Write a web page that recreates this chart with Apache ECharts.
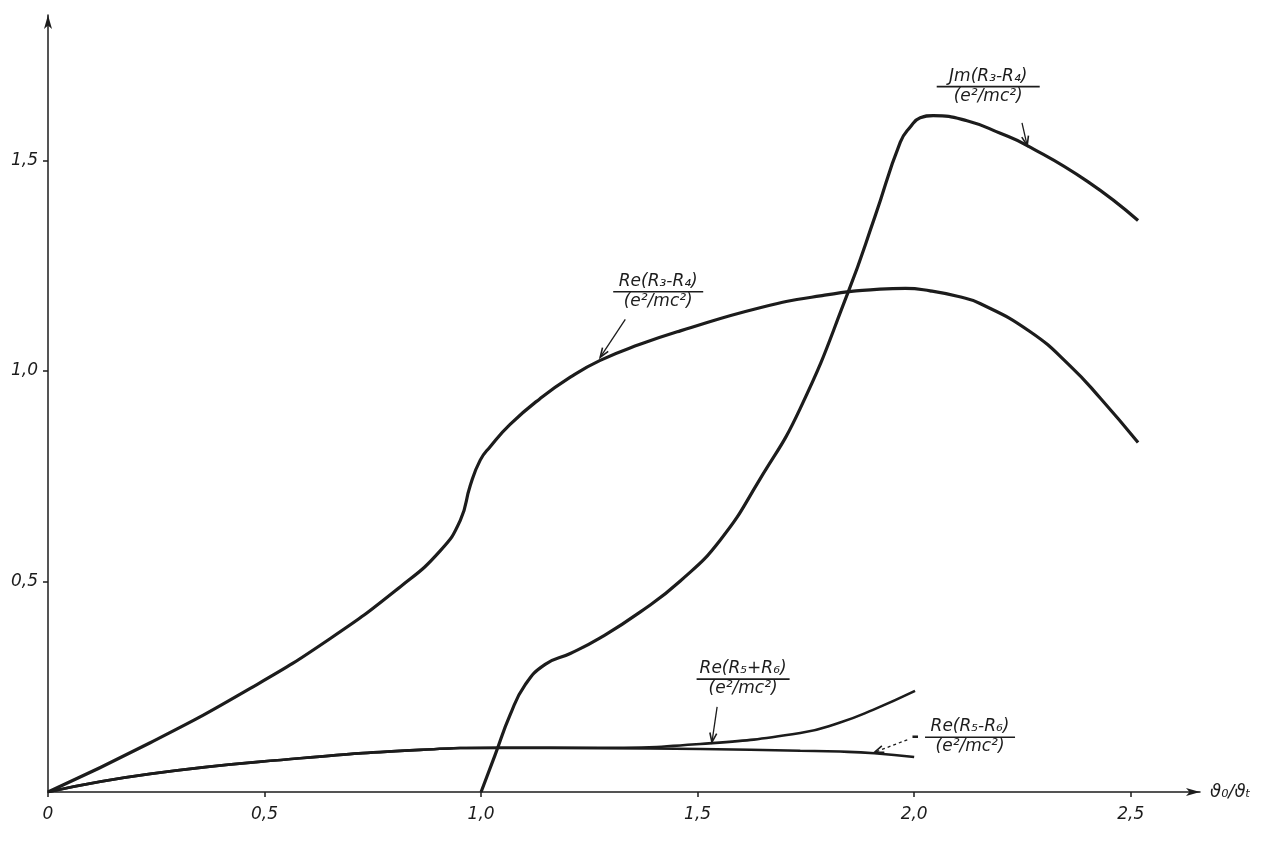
<!DOCTYPE html>
<html><head><meta charset="utf-8">
<script src="https://cdn.jsdelivr.net/npm/echarts@6/dist/echarts.min.js"></script>
<style>html,body{margin:0;padding:0;background:#fff}#c{width:1265px;height:846px}</style>
</head><body><div id="c"></div>
<script>
// ---- data (x = ϑ0/ϑt, y in units of e²/mc²) ----
const xTickLabels = ['0', '0,5', '1,0', '1,5', '2,0', '2,5'];
const yTickLabels = ['0', '0,5', '1,0', '1,5'];

const reR3R4 = [[0,0],[0.236,0.117],[0.467,0.246],[0.651,0.364],[0.813,0.487],[0.905,0.572],[0.952,0.645],[0.975,0.728],[0.998,0.788],[1.021,0.820],[1.067,0.873],[1.136,0.934],[1.206,0.985],[1.275,1.025],[1.367,1.063],[1.46,1.095],[1.644,1.150],[1.783,1.178],[1.921,1.194],[1.98,1.196],[2.037,1.190],[2.10,1.177],[2.152,1.160],[2.268,1.093],[2.36,1.012],[2.43,0.935],[2.517,0.830]];

const imR3R4 = [[1.0,0],[1.032,0.087],[1.067,0.183],[1.102,0.255],[1.148,0.303],[1.206,0.329],[1.275,0.366],[1.367,0.427],[1.46,0.501],[1.552,0.598],[1.644,0.743],[1.737,0.911],[1.848,1.188],[1.910,1.368],[1.968,1.543],[1.991,1.579],[2.014,1.601],[2.044,1.606],[2.122,1.594],[2.199,1.564],[2.261,1.535],[2.40,1.450],[2.517,1.357]];

const reR5plusR6 = [[0,0],[0.236,0.043],[0.582,0.080],[0.859,0.100],[1.044,0.105],[1.275,0.105],[1.506,0.114],[1.737,0.140],[1.829,0.165],[1.905,0.195],[2.002,0.240]];

const negReR5minusR6 = [[0,0],[0.236,0.043],[0.582,0.080],[0.859,0.100],[1.044,0.105],[1.275,0.104],[1.506,0.102],[1.737,0.098],[1.829,0.096],[1.908,0.092],[2.0,0.083]];

// annotation labels (fraction labels with arrows), anchored in data coordinates
const annotations = [
  {num:'Jm(R₃-R₄)', den:'(e²/mc²)', at:[2.171,1.675], w:103, from:[2.249,1.589], to:[2.261,1.535], dashed:false, prefix:''},
  {num:'Re(R₃-R₄)', den:'(e²/mc²)', at:[1.409,1.188], w:90, from:[1.333,1.122], to:[1.275,1.032], dashed:false, prefix:''},
  {num:'Re(R₅+R₆)', den:'(e²/mc²)', at:[1.605,0.268], w:93, from:[1.545,0.202], to:[1.533,0.118], dashed:false, prefix:''},
  {num:'Re(R₅-R₆)', den:'(e²/mc²)', at:[2.129,0.130], w:90, from:[1.984,0.124], to:[1.908,0.094], dashed:true, prefix:'-'}
];

const INK = '#1c1c1c';
const FONT = '"DejaVu Sans", sans-serif';

const chart = echarts.init(document.getElementById('c'));

function lineSeries(name, data, width) {
  return {
    name, type:'line', data, symbol:'none', smooth:0.5,
    lineStyle:{color:INK, width}, itemStyle:{color:INK}, z:3, animation:false
  };
}

chart.setOption({
  backgroundColor:'#fff',
  animation:false,
  grid:{left:48, right:65, top:15, bottom:54, containLabel:false},
  xAxis:{
    type:'value', min:0, max:2.66, interval:0.5,
    axisLine:{show:true, lineStyle:{color:INK, width:1.5}, symbol:['none','arrow'], symbolSize:[6,14]},
    axisTick:{show:true, length:5, lineStyle:{color:INK, width:1.5}},
    axisLabel:{formatter:v => xTickLabels[Math.round(v/0.5)] || '', showMaxLabel:false, color:INK,
      fontStyle:'italic', fontSize:17, fontFamily:FONT, margin:14},
    splitLine:{show:false},
    name:'ϑ₀/ϑₜ', nameLocation:'end', nameGap:10,
    nameTextStyle:{color:INK, fontStyle:'italic', fontSize:18, fontFamily:FONT, padding:[22,0,0,0]}
  },
  yAxis:{
    type:'value', min:0, max:1.845, interval:0.5,
    axisLine:{show:true, lineStyle:{color:INK, width:1.5}, symbol:['none','arrow'], symbolSize:[6,14]},
    axisTick:{show:true, length:5, lineStyle:{color:INK, width:1.5}},
    axisLabel:{formatter:v => yTickLabels[Math.round(v/0.5)] || '', showMinLabel:false, showMaxLabel:false,
      color:INK, fontStyle:'italic', fontSize:17, fontFamily:FONT, margin:10},
    splitLine:{show:false}
  },
  series:[
    lineSeries('Re(R3-R4)', reR3R4, 3.2),
    lineSeries('Im(R3-R4)', imR3R4, 3.2),
    lineSeries('Re(R5+R6)', reR5plusR6, 2.6),
    lineSeries('-Re(R5-R6)', negReR5minusR6, 2.6)
  ]
});

function px(p){ return chart.convertToPixel({gridIndex:0}, p); }

const elements = [];
annotations.forEach(a => {
  const c = px(a.at);
  const half = a.w/2;
  elements.push({type:'line', shape:{x1:c[0]-half, y1:c[1], x2:c[0]+half, y2:c[1]}, style:{stroke:INK, lineWidth:1.6}, z:10});
  elements.push({type:'text', x:c[0], y:c[1]-2, style:{text:a.num, font:'italic 17px ' + FONT, fill:INK,
    align:'center', verticalAlign:'bottom', textAlign:'center', textVerticalAlign:'bottom'}, z:10});
  elements.push({type:'text', x:c[0], y:c[1]+1, style:{text:a.den, font:'italic 17px ' + FONT, fill:INK,
    align:'center', verticalAlign:'top', textAlign:'center', textVerticalAlign:'top'}, z:10});
  if (a.prefix) {
    elements.push({type:'text', x:c[0]-half-6, y:c[1], style:{text:a.prefix, font:'bold 18px ' + FONT, fill:INK,
      align:'right', verticalAlign:'middle', textAlign:'right', textVerticalAlign:'middle'}, z:10});
  }
  const f = px(a.from), t = px(a.to);
  elements.push({type:'line', shape:{x1:f[0], y1:f[1], x2:t[0], y2:t[1]},
    style:{stroke:INK, lineWidth:1.3, lineDash:a.dashed ? [3,3] : null}, z:10});
  const ang = Math.atan2(t[1]-f[1], t[0]-f[0]);
  const L = 10, s = 0.35;
  elements.push({type:'polyline', shape:{points:[
      [t[0]-L*Math.cos(ang-s), t[1]-L*Math.sin(ang-s)], [t[0], t[1]], [t[0]-L*Math.cos(ang+s), t[1]-L*Math.sin(ang+s)]]},
    style:{stroke:INK, lineWidth:1.6, fill:null}, z:10});
});
chart.setOption({graphic:{elements}});
</script>
</body></html>
